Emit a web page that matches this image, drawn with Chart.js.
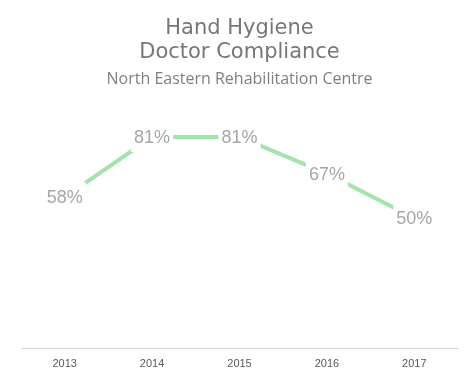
<!DOCTYPE html>
<html>
<head>
<meta charset="utf-8">
<script src="https://cdn.jsdelivr.net/npm/chart.js@4"></script>
<style>
html,body{margin:0;padding:0;background:#fff;}
#wrap{width:466px;height:378px;position:relative;}
</style>
</head>
<body>
<div id="wrap"><canvas id="c" width="466" height="378"></canvas></div>
<script>
const categories = ['2013', '2014', '2015', '2016', '2017'];
const compliance = [58, 81, 81, 67, 50];
const valueLabels = ['58%', '81%', '81%', '67%', '50%'];
const titleLines = ['Hand Hygiene', 'Doctor Compliance'];
const subtitleText = 'North Eastern Rehabilitation Centre';

const labelPlugin = {
  id: 'boxLabels',
  afterDatasetsDraw(chart) {
    const ctx = chart.ctx;
    const meta = chart.getDatasetMeta(0);
    ctx.save();
    ctx.font = '18px "Liberation Sans", Arial, sans-serif';
    ctx.textAlign = 'center';
    ctx.textBaseline = 'middle';
    meta.data.forEach((pt, i) => {
      const x = pt.x, y = pt.y;
      ctx.fillStyle = '#ffffff';
      ctx.fillRect(x - 21, y - 15, 42, 30);
      ctx.fillStyle = '#a6a6a6';
      ctx.fillText(valueLabels[i], x, y + 1);
    });
    ctx.restore();
  }
};

new Chart(document.getElementById('c'), {
  type: 'line',
  data: {
    labels: categories,
    datasets: [{
      data: compliance,
      borderColor: '#a3e4ad',
      borderWidth: 4,
      pointRadius: 0,
      pointHoverRadius: 0,
      fill: false,
      tension: 0
    }]
  },
  options: {
    responsive: false,
    animation: false,
    devicePixelRatio: 1,
    layout: { padding: { left: 21, right: 8, top: 6, bottom: -2 } },
    plugins: {
      legend: { display: false },
      tooltip: { enabled: false },
      title: {
        display: true,
        text: titleLines,
        color: '#777777',
        font: { family: '"DejaVu Sans", sans-serif', size: 21, weight: 'normal', lineHeight: 1.15 },
        padding: { top: 10, bottom: 3 }
      },
      subtitle: {
        display: true,
        text: subtitleText,
        color: '#7f7f7f',
        font: { family: '"Open Sans", sans-serif', size: 16, weight: 'normal', lineHeight: 1.0 },
        padding: { top: 4, bottom: 0 }
      }
    },
    scales: {
      x: {
        offset: true,
        grid: { display: false, drawTicks: false },
        border: { display: true, color: '#d9d9d9', width: 1 },
        ticks: { color: '#595959', font: { family: '"Liberation Sans", sans-serif', size: 11 }, padding: 9 }
      },
      y: {
        display: false,
        min: 0,
        max: 100
      }
    }
  },
  plugins: [labelPlugin]
});
</script>
</body>
</html>
